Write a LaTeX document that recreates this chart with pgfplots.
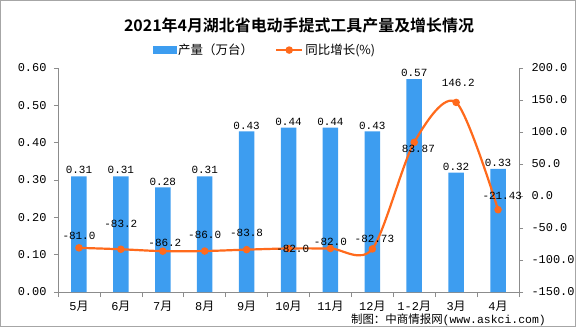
\documentclass[border=0pt]{standalone}
\usepackage{pgfplots}
\pgfplotsset{compat=1.18}
\usepackage{fontspec}
\setmainfont{Liberation Mono}
\newfontfamily\cjk[BoldFont={Noto Sans CJK SC Bold}]{Noto Sans CJK SC}
\definecolor{barblue}{HTML}{3D9DF0}
\definecolor{lineorange}{HTML}{FF6A1C}
\definecolor{axgray}{HTML}{8C8C8C}
\begin{document}
\begin{tikzpicture}
\path[use as bounding box] (0,0) rectangle (576bp,327bp);
\draw[color=black!35, line width=0.8bp] (0.4bp,0.4bp) rectangle (575.6bp,326.6bp);
\begin{axis}[
  at={(58bp,35bp)}, anchor=south west, scale only axis,
  width=461bp, height=224bp,
  xmin=-0.5, xmax=10.5, ymin=0, ymax=0.6,
  axis y line*=left, axis x line*=bottom,
  axis line style={draw=axgray, -},
  every tick/.style={draw=axgray, line width=0.6bp},
  tick align=outside, major tick length=4bp,
  /pgf/number format/assume math mode=true,
  xtick={0,...,10},
  xticklabels={5{\cjk 月},6{\cjk 月},7{\cjk 月},8{\cjk 月},9{\cjk 月},10{\cjk 月},11{\cjk 月},12{\cjk 月},1-2{\cjk 月},3{\cjk 月},4{\cjk 月}},
  major x tick style={draw=none},
  extra x ticks={-0.5,0.5,1.5,2.5,3.5,4.5,5.5,6.5,7.5,8.5,9.5,10.5},
  extra x tick labels={},
  extra x tick style={major x tick style={draw=axgray}, major tick length=5bp},
  xticklabel style={font=\fontsize{12}{12}\selectfont, yshift=-2bp},
  ytick={0,0.1,...,0.61},
  yticklabel style={font=\fontsize{12}{12}\selectfont, /pgf/number format/fixed, /pgf/number format/fixed zerofill, /pgf/number format/precision=2, xshift=-4bp},
  ybar, bar width=15.5bp,
  clip=false,
  title={\cjk\bfseries 2021年4月湖北省电动手提式工具产量及增长情况},
  title style={at={(0.5228,1.161)}, anchor=center, font=\fontsize{16}{16}\selectfont},
]
\addplot[fill=barblue, draw=none,
  nodes near coords={\pgfmathprintnumber[fixed, fixed zerofill, precision=2]{\pgfplotspointmeta}},
  nodes near coords style={font=\fontsize{11}{11}\selectfont, black, inner sep=2bp}]
  coordinates {(0,0.31) (1,0.31) (2,0.28) (3,0.31) (4,0.43) (5,0.44) (6,0.44) (7,0.43) (8,0.57) (9,0.32) (10,0.33)};
\node[font=\cjk\fontsize{11.5}{11.5}\selectfont, anchor=center] at (rel axis cs:0.847,-0.124) {制图：中商情报网{\rmfamily (www.askci.com)}};
\end{axis}
\begin{axis}[
  at={(58bp,35bp)}, anchor=south west, scale only axis,
  width=461bp, height=224bp,
  xmin=-0.5, xmax=10.5, ymin=-150, ymax=200,
  axis y line*=right, axis x line=none,
  axis line style={draw=axgray, -},
  every tick/.style={draw=axgray, line width=0.6bp},
  tick align=outside, major tick length=4bp,
  /pgf/number format/assume math mode=true,
  ytick={-150,-100,...,200},
  yticklabel style={font=\fontsize{12}{12}\selectfont, /pgf/number format/fixed, /pgf/number format/fixed zerofill, /pgf/number format/precision=1, xshift=5bp},
  clip=false,
  legend columns=2,
  legend style={at={(0.449,1.080)}, anchor=center, draw=none, fill=none,
    font=\cjk\fontsize{12.5}{12.5}\selectfont,
    /tikz/every even column/.append style={column sep=20bp}},
]
\addlegendimage{legend image code/.code={\fill[barblue] (0bp,-3.5bp) rectangle (23bp,3.5bp);}}
\addlegendentry{产量（万台）}
\addplot[color=lineorange, line width=2.2bp, smooth, tension=0.5, mark=*, mark size=2.6bp,
  mark options={fill=lineorange, draw=lineorange},
  legend image code/.code={\draw[lineorange, line width=2.5bp] (0bp,0bp) -- (26bp,0bp); \fill[lineorange] (13bp,0bp) circle (2.6bp);}]
  coordinates {(0,-81.0) (1,-83.2) (2,-86.2) (3,-86.0) (4,-83.8) (5,-82.0) (6,-82.0) (7,-82.73) (8,83.87) (9,146.2) (10,-21.43)};
\addlegendentry{同比增长(\%)}
\addplot[forget plot, draw=none, mark=none,
  nodes near coords, point meta=explicit symbolic, nodes near coords align=center,
  nodes near coords style={font=\fontsize{11}{11}\selectfont, black, inner sep=0bp}]
  table[meta=label] {
x y label
0 -62 -81.0
1 -43 -83.2
2.05 -73 -86.2
3 -61 -86.0
4 -58 -83.8
5.1 -83 -82.0
6 -71 -82.0
7.05 -67 -82.73
8.1 73 83.87
9.05 176 146.2
10.1 0 -21.43
};
\end{axis}
\end{tikzpicture}
\end{document}
